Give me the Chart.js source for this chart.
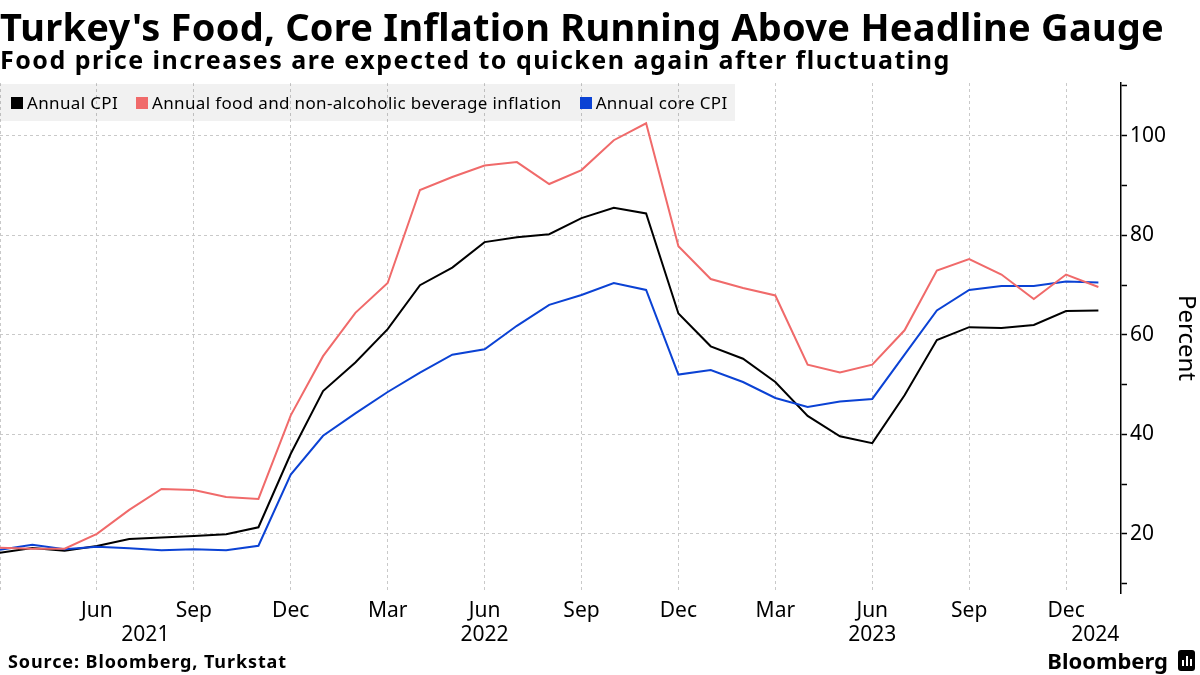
<!DOCTYPE html>
<html lang="en">
<head>
    <meta charset="UTF-8">
    <title>Turkey's Food, Core Inflation Running Above Headline Gauge</title>
    <script src="https://cdn.jsdelivr.net/npm/chart.js"></script>
    <style>
        body {
            margin: 0;
            background: #fff;
            font-family: 'Noto Sans', sans-serif;
            color: #000;
        }

        .page {
            position: relative;
            width: 1200px;
            height: 675px;
            overflow: hidden;
        }

        .title {
            position: absolute;
            left: 0;
            top: 7px;
            font-size: 38px;
            line-height: 38px;
            letter-spacing: 0.25px;
            font-weight: bold;
            white-space: nowrap;
        }

        .subtitle {
            position: absolute;
            left: 0;
            top: 47px;
            font-size: 25px;
            line-height: 25px;
            letter-spacing: 1.5px;
            font-weight: bold;
            white-space: nowrap;
        }

        .chart-box {
            position: absolute;
            left: 0;
            top: 0;
            width: 1200px;
            height: 675px;
        }

        .legend {
            position: absolute;
            left: 0;
            top: 84px;
            width: 735px;
            height: 37px;
            background: rgba(0, 0, 0, 0.055);
            display: flex;
            align-items: center;
            padding-left: 11px;
            box-sizing: border-box;
            font-size: 17px;
            letter-spacing: 0.35px;
        }

        .legend span.sw {
            display: inline-block;
            width: 12px;
            height: 12px;
            margin-right: 4px;
        }

        .legend .item {
            display: flex;
            align-items: center;
            margin-right: 18px;
            white-space: nowrap;
        }

        .source {
            position: absolute;
            left: 8px;
            top: 650px;
            font-size: 18px;
            line-height: 22px;
            letter-spacing: 0.9px;
            font-weight: bold;
        }

        .brand {
            position: absolute;
            right: 5px;
            top: 647px;
            display: flex;
            align-items: center;
            font-size: 22px;
            line-height: 26px;
            font-weight: bold;
        }

        .brand .icon {
            display: inline-flex;
            align-items: flex-end;
            justify-content: center;
            gap: 2px;
            width: 17px;
            height: 21px;
            margin-left: 10px;
            padding-bottom: 5px;
            box-sizing: border-box;
            background: #000;
            border-radius: 3px;
        }

        .brand .icon i {
            display: block;
            width: 2px;
            background: #fff;
        }
    </style>
</head>
<body>
<div class="page">
    <div class="chart-box"><canvas id="chart" width="1200" height="675"></canvas></div>
    <div class="title">Turkey's Food, Core Inflation Running Above Headline Gauge</div>
    <div class="subtitle">Food price increases are expected to quicken again after fluctuating</div>
    <div class="legend" id="legend"></div>
    <div class="source">Source: Bloomberg, Turkstat</div>
    <div class="brand">Bloomberg<span class="icon"><i style="height:6px"></i><i style="height:10px"></i><i style="height:7px"></i></span></div>
</div>

<script>
    // monthly points, index 0 = Mar 2021 ... index 34 = Jan 2024
    const months = [
        "Mar 2021", "Apr 2021", "May 2021", "Jun 2021", "Jul 2021", "Aug 2021", "Sep 2021", "Oct 2021", "Nov 2021", "Dec 2021",
        "Jan 2022", "Feb 2022", "Mar 2022", "Apr 2022", "May 2022", "Jun 2022", "Jul 2022", "Aug 2022", "Sep 2022", "Oct 2022", "Nov 2022", "Dec 2022",
        "Jan 2023", "Feb 2023", "Mar 2023", "Apr 2023", "May 2023", "Jun 2023", "Jul 2023", "Aug 2023", "Sep 2023", "Oct 2023", "Nov 2023", "Dec 2023",
        "Jan 2024"
    ];

    const annualCpi = [16.19, 17.14, 16.59, 17.53, 18.95, 19.25, 19.58, 19.89, 21.31, 36.08,
        48.69, 54.44, 61.14, 69.97, 73.50, 78.62, 79.60, 80.21, 83.45, 85.51, 84.39, 64.27,
        57.68, 55.18, 50.51, 43.68, 39.59, 38.21, 47.83, 58.94, 61.53, 61.36, 61.98, 64.77,
        64.86];

    const foodInflation = [17.2, 17.0, 17.0, 20.0, 24.8, 29.0, 28.8, 27.4, 27.0, 43.8,
        55.7, 64.4, 70.4, 89.1, 91.7, 94.0, 94.7, 90.3, 93.1, 99.1, 102.5, 77.8,
        71.2, 69.4, 67.9, 54.0, 52.4, 54.0, 60.9, 72.9, 75.2, 72.1, 67.2, 72.1,
        69.6];

    const coreCpi = [16.8, 17.8, 16.9, 17.4, 17.1, 16.7, 16.9, 16.7, 17.6, 31.9,
        39.7, 44.2, 48.5, 52.4, 56.0, 57.1, 61.8, 66.0, 68.0, 70.4, 69.0, 52.0,
        52.9, 50.5, 47.3, 45.5, 46.6, 47.1, 56.0, 64.9, 69.0, 69.8, 69.8, 70.7,
        70.5];

    const seriesNames = ["Annual CPI", "Annual food and non-alcoholic beverage inflation", "Annual core CPI"];
    const seriesColors = ["#000000", "#f06a6a", "#0b42d4"];

    // axis ticks
    const monthTickPos = [0, 3, 6, 9, 12, 15, 18, 21, 24, 27, 30, 33];
    const monthTickLabels = ["", "Jun", "Sep", "Dec", "Mar", "Jun", "Sep", "Dec", "Mar", "Jun", "Sep", "Dec"];
    const yearTickPos = [4.5, 15, 27, 33.9];
    const yearTickLabels = ["2021", "2022", "2023", "2024"];
    const yTickVals = [10, 20, 30, 40, 50, 60, 70, 80, 90, 100, 110];
    const yMin = 8.1;
    const yMax = 110.6;
    const xMax = 34.7;

    const gridColor = "#c9c9c9";
    const tickFont = { family: "'Noto Sans', sans-serif", size: 21 };

    // html legend
    const legend = document.getElementById("legend");
    seriesNames.forEach((name, i) => {
        const item = document.createElement("div");
        item.className = "item";
        item.innerHTML = '<span class="sw" style="background:' + seriesColors[i] + '"></span>' + name;
        legend.appendChild(item);
    });

    function toPoints(values) {
        return values.map((v, i) => ({ x: i, y: v }));
    }

    const seriesValues = [annualCpi, foodInflation, coreCpi];
    // draw order: red, blue, black on top
    const drawOrder = [1, 2, 0];

    const datasets = drawOrder.map(i => ({
        label: seriesNames[i],
        data: toPoints(seriesValues[i]),
        borderColor: seriesColors[i],
        backgroundColor: seriesColors[i],
        borderWidth: 2,
        pointRadius: 0,
        tension: 0,
        fill: false
    }));

    const ctx = document.getElementById("chart").getContext("2d");
    new Chart(ctx, {
        type: "line",
        data: { datasets: datasets },
        options: {
            responsive: false,
            animation: false,
            devicePixelRatio: 1,
            layout: { autoPadding: false, padding: { top: 83, left: 0, right: 0, bottom: 26 } },
            plugins: {
                legend: { display: false },
                tooltip: { enabled: false }
            },
            scales: {
                x: {
                    type: "linear",
                    position: "bottom",
                    min: 0,
                    max: xMax,
                    afterBuildTicks: scale => {
                        scale.ticks = monthTickPos.map(v => ({ value: v }));
                    },
                    afterFit: scale => {
                        scale.height = 30;
                        scale.paddingLeft = 0;
                        scale.paddingRight = 0;
                    },
                    ticks: {
                        autoSkip: false,
                        maxRotation: 0,
                        padding: 5,
                        color: "#000",
                        font: tickFont,
                        callback: (value, index) => monthTickLabels[index]
                    },
                    grid: { color: gridColor, lineWidth: 1, drawTicks: false },
                    border: { display: false, dash: [3, 3] }
                },
                x2: {
                    type: "linear",
                    position: "bottom",
                    min: 0,
                    max: xMax,
                    afterBuildTicks: scale => {
                        scale.ticks = yearTickPos.map(v => ({ value: v }));
                    },
                    afterFit: scale => {
                        scale.height = 26;
                        scale.paddingLeft = 0;
                        scale.paddingRight = 0;
                    },
                    ticks: {
                        autoSkip: false,
                        maxRotation: 0,
                        padding: -9,
                        color: "#000",
                        font: tickFont,
                        callback: (value, index) => yearTickLabels[index]
                    },
                    grid: { display: false },
                    border: { display: false }
                },
                y: {
                    position: "right",
                    min: yMin,
                    max: yMax,
                    afterBuildTicks: scale => {
                        scale.ticks = yTickVals.map(v => ({ value: v }));
                    },
                    afterFit: scale => { scale.width = 79; },
                    ticks: {
                        padding: 3,
                        color: "#000",
                        font: tickFont,
                        callback: value => (value % 20 === 0 ? String(value) : "")
                    },
                    grid: {
                        color: c => (c.tick && c.tick.value % 20 === 0 ? gridColor : "rgba(0,0,0,0)"),
                        lineWidth: 1,
                        drawTicks: true,
                        tickLength: 6,
                        tickColor: "#000",
                        tickWidth: 1.5,
                        tickBorderDash: []
                    },
                    border: { display: true, color: "#000", width: 1.5, dash: [3, 3] },
                    title: {
                        display: true,
                        text: "Percent",
                        color: "#000",
                        font: { family: "'Noto Sans', sans-serif", size: 24 },
                        padding: { top: 0, bottom: 0 }
                    }
                }
            }
        }
    });
</script>
</body>
</html>
